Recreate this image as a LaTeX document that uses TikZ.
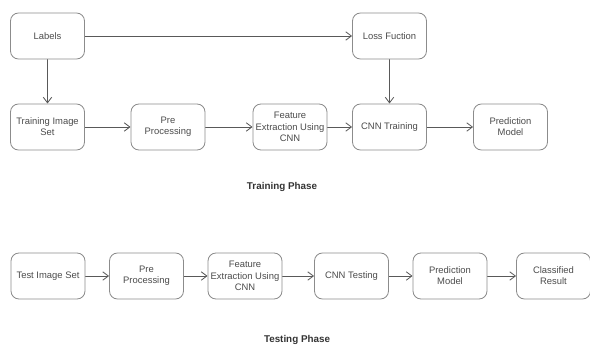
\documentclass[tikz,border=0pt]{standalone}
\usepackage{fontspec}
\setmainfont{Liberation Sans}
\usepackage{tikz}
\usetikzlibrary{arrows.meta}
\pgfdeclarelayer{nodelayer}
\pgfdeclarelayer{edgelayer}
\pgfsetlayers{edgelayer,nodelayer,main}
\tikzstyle{none}=[inner sep=0pt]
\tikzstyle{box}=[draw=black!45, line width=0.6pt, fill=white, rounded corners=0.2cm, minimum width=1.85cm, minimum height=1.15cm, inner sep=1pt, align=center, text=black!70, font=\fontsize{6.7}{8}\selectfont]
\tikzstyle{phase}=[inner sep=0pt, text=black!80, font=\fontsize{7}{8}\selectfont\bfseries]
\tikzstyle{flow}=[draw=black!65, line width=0.6pt, -{Straight Barb[length=4pt,width=6pt]}]

\begin{document}
\begin{tikzpicture}[x=0.025cm, y=-0.025cm]
        \useasboundingbox (0,0) rectangle (590,347);
        \begin{pgfonlayer}{nodelayer}
            % training phase
            \node [style=box] (0) at (47.5, 36) {Labels};
            \node [style=box] (1) at (47.5, 127) {Training Image\\Set};
            \node [style=box] (2) at (168, 127) {Pre\\Processing};
            \node [style=box] (3) at (290, 127) {Feature\\Extraction Using\\CNN};
            \node [style=box] (4) at (389.5, 127) {CNN Training};
            \node [style=box] (5) at (389.5, 36) {Loss Fuction};
            \node [style=box] (6) at (510.5, 127) {Prediction\\Model};
            \node [style=phase] (7) at (282, 187) {Training Phase};
            % testing phase
            \node [style=box] (8) at (48, 276) {Test Image Set};
            \node [style=box] (9) at (146.5, 276) {Pre\\Processing};
            \node [style=box] (10) at (245, 276) {Feature\\Extraction Using\\CNN};
            \node [style=box] (11) at (351.5, 276) {CNN Testing};
            \node [style=box] (12) at (450, 276) {Prediction\\Model};
            \node [style=box] (13) at (553.5, 276) {Classified\\Result};
            \node [style=phase] (14) at (297, 340) {Testing Phase};
        \end{pgfonlayer}
        \begin{pgfonlayer}{edgelayer}
            \draw [style=flow] (0) to (5);
            \draw [style=flow] (0) to (1);
            \draw [style=flow] (1) to (2);
            \draw [style=flow] (2) to (3);
            \draw [style=flow] (3) to (4);
            \draw [style=flow] (5) to (4);
            \draw [style=flow] (4) to (6);
            \draw [style=flow] (8) to (9);
            \draw [style=flow] (9) to (10);
            \draw [style=flow] (10) to (11);
            \draw [style=flow] (11) to (12);
            \draw [style=flow] (12) to (13);
        \end{pgfonlayer}
\end{tikzpicture}
\end{document}
